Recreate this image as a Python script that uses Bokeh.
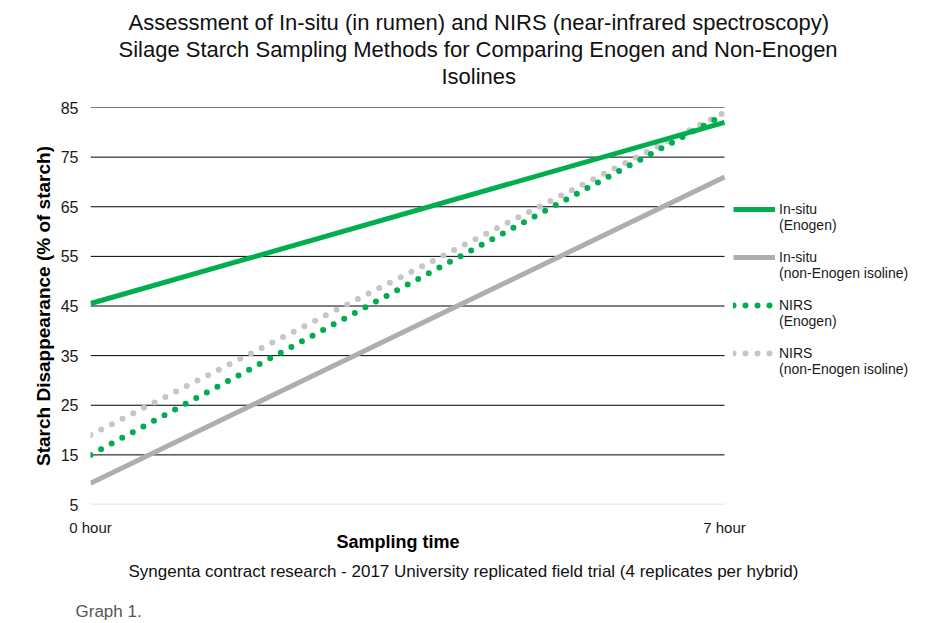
from bokeh.plotting import figure
from bokeh.models import Legend, LegendItem, Title, FixedTicker
from bokeh.embed import file_html
from bokeh.resources import INLINE

# Data
hours = [0, 7]
x_tick_labels = {0: "0 hour", 7: "7 hour"}
insitu_enogen = [45.5, 82.0]
insitu_non_enogen = [9.3, 71.0]
nirs_enogen = [15.0, 83.6]
nirs_non_enogen = [19.0, 84.0]
y_ticks = [5, 15, 25, 35, 45, 55, 65, 75, 85]
grid_values = y_ticks[1:]
baseline_value = y_ticks[0]

FONT = "Liberation Sans"
GREEN = "#00ad4f"
GRAY = "#b0adad"
LGRAY = "#c6c6c6"

# frame spans the plotting area plus the legend column on the right
p = figure(width=934, height=623, x_range=(0, 9.23), y_range=(5, 85),
           output_backend="svg", toolbar_location=None, title=None,
           min_border_left=90, min_border_right=8, min_border_top=107, min_border_bottom=119)
p.outline_line_color = None
p.xgrid.grid_line_color = None
p.ygrid.grid_line_color = None

# horizontal grid lines limited to the data span
p.segment(x0=hours[0], x1=hours[-1], y0=grid_values, y1=grid_values,
          line_color="#000000", line_width=1)
p.segment(x0=hours[0], x1=hours[-1], y0=baseline_value, y1=baseline_value,
          line_color="#d9d9d9", line_width=1.5)

r3 = p.line(hours, nirs_non_enogen, line_color=LGRAY, line_width=6, line_dash="0 12", line_cap="round")
r2 = p.line(hours, nirs_enogen, line_color=GREEN, line_width=6, line_dash="0 12", line_cap="round")
r1 = p.line(hours, insitu_enogen, line_color=GREEN, line_width=5)
r0 = p.line(hours, insitu_non_enogen, line_color=GRAY, line_width=5)

# axes
p.xaxis.ticker = FixedTicker(ticks=hours)
p.xaxis.major_label_overrides = x_tick_labels
p.xaxis.axis_line_color = None
p.xaxis.major_tick_line_color = None
p.xaxis.minor_tick_line_color = None
p.xaxis.major_tick_out = 0
p.xaxis.major_label_standoff = 14
p.xaxis.major_label_text_font = FONT
p.xaxis.major_label_text_font_size = "15px"
p.xaxis.major_label_text_color = "#1a1a1a"

p.yaxis.ticker = FixedTicker(ticks=y_ticks)
p.yaxis.axis_line_color = None
p.yaxis.major_tick_line_color = None
p.yaxis.minor_tick_line_color = None
p.yaxis.major_tick_out = 0
p.yaxis.major_label_standoff = 12
p.yaxis.major_label_text_font = FONT
p.yaxis.major_label_text_font_size = "16px"
p.yaxis.major_label_text_color = "#1a1a1a"
p.yaxis.axis_label = "Starch Disappearance (% of starch)"
p.yaxis.axis_label_text_font = FONT
p.yaxis.axis_label_text_font_size = "19px"
p.yaxis.axis_label_text_font_style = "bold"
p.yaxis.axis_label_text_color = "#000000"
p.yaxis.axis_label_standoff = 4

legend = Legend(items=[
    LegendItem(label=" \nIn-situ\n(Enogen)", renderers=[r1]),
    LegendItem(label=" \nIn-situ\n(non-Enogen isoline)", renderers=[r0]),
    LegendItem(label=" \nNIRS\n(Enogen)", renderers=[r2]),
    LegendItem(label=" \nNIRS\n(non-Enogen isoline)", renderers=[r3]),
], location=(643, 127))
legend.glyph_width = 42
legend.glyph_height = 14
legend.label_standoff = 4
legend.spacing = 0
legend.padding = 0
legend.margin = 0
legend.border_line_color = None
legend.background_fill_alpha = 0
legend.label_text_font = FONT
legend.label_text_font_size = "14px"
legend.label_text_line_height = 1.0
legend.label_text_color = "#1a1a1a"
p.add_layout(legend, "center")

# titles above (spacer first, then bottom line first)
p.add_layout(Title(text=" ", text_font_size="1px", standoff=16), "above")
for line, off in [("Isolines", 351),
                  ("Silage Starch Sampling Methods for Comparing Enogen and Non-Enogen", 28),
                  ("Assessment of In-situ (in rumen) and NIRS (near-infrared spectroscopy)", 38)]:
    t = Title(text=line, align="left", offset=off, text_font=FONT, text_font_size="22px",
              text_font_style="normal", text_color="#111111", standoff=0)
    p.add_layout(t, "above")

# texts below
p.add_layout(Title(text="Sampling time", align="left", offset=246, text_font=FONT,
                   text_font_size="18px", text_font_style="bold", text_color="#000000",
                   standoff=-18), "below")
p.add_layout(Title(text="Syngenta contract research - 2017 University replicated field trial (4 replicates per hybrid)",
                   align="left", offset=38, text_font=FONT, text_font_size="17px",
                   text_font_style="normal", text_color="#111111", standoff=34), "below")
p.add_layout(Title(text="Graph 1.", align="left", offset=-15, text_font=FONT, text_font_size="17px",
                   text_font_style="normal", text_color="#555555", standoff=5), "below")

open("out.html", "w").write(file_html(p, INLINE))
